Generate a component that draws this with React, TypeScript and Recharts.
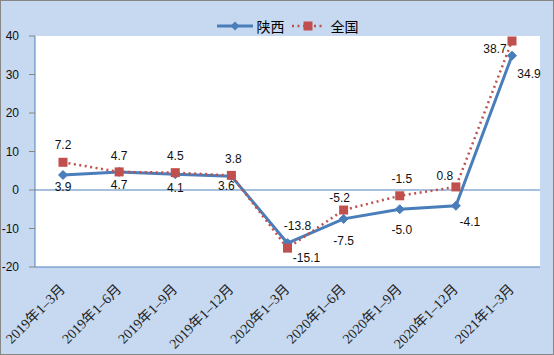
import { LineChart, Line, XAxis, YAxis, CartesianGrid, ReferenceLine, Legend } from 'recharts'

// 陕西 vs 全国, cumulative growth (%)
const categories = ['2019年1–3月', '2019年1–6月', '2019年1–9月', '2019年1–12月', '2020年1–3月', '2020年1–6月', '2020年1–9月', '2020年1–12月', '2021年1–3月']
const shaanxi = [3.9, 4.7, 4.1, 3.6, -13.8, -7.5, -5.0, -4.1, 34.9]
const national = [7.2, 4.7, 4.5, 3.8, -15.1, -5.2, -1.5, 0.8, 38.7]
const seriesNames = ['陕西', '全国']
const yTicks = [-20, -10, 0, 10, 20, 30, 40]

// label offsets from each point (dx, dy)
const shaanxiLabelOffset = [[0, 12], [0, 13], [0, 14], [-5, 10], [10, -17], [0, 22], [2, 21], [14, 16], [17, 18]]
const nationalLabelOffset = [[0, -17], [0, -16], [0, -17], [2, -16], [19, 10], [-4, -12], [2, -17], [-11, -11], [-17, 8]]

const BLUE = '#4A7EBB'
const RED = '#C0504D'
const BORDER = '#4F81BD'

const data = categories.map((cat, i) => ({ cat, shaanxi: shaanxi[i], national: national[i] }))

const labelFont = '"Liberation Sans", Arial, sans-serif'

const makeLabel = (offsets: number[][]) => (props: any) => {
  const { x, y, value, index } = props
  if (x == null || y == null) return null
  const [dx, dy] = offsets[index] || [0, 0]
  return (
    <text x={x + dx} y={y + dy} textAnchor="middle" dominantBaseline="central"
      fontFamily={labelFont} fontSize={12} fill="#111">
      {Number(value).toFixed(1)}
    </text>
  )
}

const Diamond = (props: any) => {
  const { cx, cy } = props
  if (cx == null || cy == null) return null
  const r = 4.5
  return <polygon points={`${cx},${cy - r} ${cx + r},${cy} ${cx},${cy + r} ${cx - r},${cy}`} fill={BLUE} stroke={BLUE} />
}

const Square = (props: any) => {
  const { cx, cy } = props
  if (cx == null || cy == null) return null
  const s = 9
  return <rect x={cx - s / 2} y={cy - s / 2} width={s} height={s} fill={RED} />
}

const XTick = ({ x, y, payload }: any) => {
  const ax = x + 3
  const ay = y + 23
  return (
    <text x={ax} y={ay} transform={`rotate(-45, ${ax}, ${ay})`} textAnchor="end"
      fontFamily='"Liberation Serif", "Noto Sans CJK SC", serif' fontSize={14} fill="#222">
      {payload.value}
    </text>
  )
}

const LegendContent = () => (
  <div style={{ display: 'flex', justifyContent: 'center', alignItems: 'center', fontFamily: '"Noto Sans CJK SC", sans-serif', fontSize: 14, color: '#000' }}>
    <svg width={36} height={12}>
      <line x1={0} y1={6} x2={36} y2={6} stroke={BLUE} strokeWidth={3} />
      <polygon points="18,1.5 22.5,6 18,10.5 13.5,6" fill={BLUE} />
    </svg>
    <span style={{ marginLeft: 4 }}>{seriesNames[0]}</span>
    <svg width={34} height={12} style={{ marginLeft: 6 }}>
      <line x1={1} y1={6} x2={34} y2={6} stroke={RED} strokeWidth={2.5} strokeDasharray="2 3.5" />
      <rect x={12.5} y={1.5} width={9} height={9} fill={RED} />
    </svg>
    <span style={{ marginLeft: 6 }}>{seriesNames[1]}</span>
  </div>
)

export default function App() {
  return (
    <div style={{ position: 'absolute', left: 0, top: 0, width: 554, height: 355, background: '#C6D9F0' }}>
      <LineChart width={554} height={355} data={data} margin={{ top: 16, right: 14, bottom: 0, left: 0 }}>
        <CartesianGrid horizontal={false} vertical={false} fill="#FFFFFF" fillOpacity={1} />
        <XAxis dataKey="cat" interval={0} height={88} padding={{ left: 28, right: 28 }}
          axisLine={{ stroke: BORDER }} tickLine={false} tickSize={0} tickMargin={0} tick={<XTick />} />
        <XAxis xAxisId="top" dataKey="cat" orientation="top" height={0} padding={{ left: 28, right: 28 }}
          axisLine={{ stroke: BORDER }} tickLine={false} tick={false} />
        <YAxis domain={[-20, 40]} ticks={yTicks} width={35} interval={0}
          axisLine={{ stroke: BORDER }} tickLine={{ stroke: '#868686' }} tickSize={6} tickMargin={10}
          tick={{ fill: '#111', fontSize: 12, fontFamily: labelFont }} />
        <YAxis yAxisId="right" orientation="right" domain={[-20, 40]} width={0}
          axisLine={{ stroke: BORDER }} tickLine={false} tick={false} />
        <ReferenceLine y={0} stroke={BORDER} strokeWidth={1} />
        <Legend verticalAlign="top" content={<LegendContent />} wrapperStyle={{ top: 16, left: 35, width: 505 }} />
        <Line type="linear" dataKey="shaanxi" name={seriesNames[0]} stroke={BLUE} strokeWidth={3}
          dot={<Diamond />} activeDot={false} label={makeLabel(shaanxiLabelOffset)} isAnimationActive={false} />
        <Line type="linear" dataKey="national" name={seriesNames[1]} stroke={RED} strokeWidth={2.5}
          strokeDasharray="2 3.5" dot={<Square />} activeDot={false} label={makeLabel(nationalLabelOffset)} isAnimationActive={false} />
      </LineChart>
      <div style={{ position: 'absolute', left: 0, top: 0, width: 554, height: 355, boxSizing: 'border-box', border: '1px solid #868686', pointerEvents: 'none' }} />
    </div>
  )
}
